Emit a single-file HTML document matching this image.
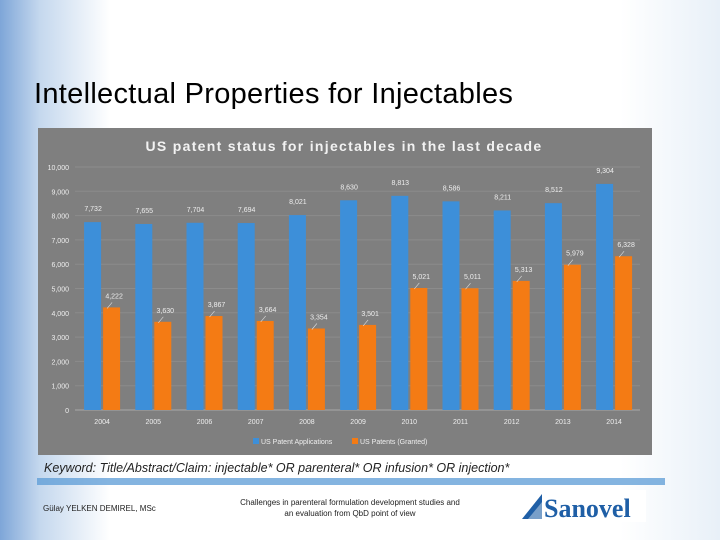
<!DOCTYPE html>
<html><head><meta charset="utf-8"><style>
body{margin:0;width:720px;height:540px;overflow:hidden;font-family:"Liberation Sans",sans-serif;position:relative;
background:linear-gradient(90deg,#7ea6d8 0px,#c5d8ee 40px,#fff 110px,#fff 620px,#e8f0f8 720px);}
.t{position:absolute}
</style></head><body>
<div class="t" style="left:34px;top:78px;font-size:29px;color:#000;letter-spacing:0.3px">Intellectual Properties for Injectables</div>
<svg class="t" style="left:0;top:0" width="720" height="540">
<rect x="38" y="128" width="614" height="327" fill="#7f7f7f"/>
<text x="344" y="151" text-anchor="middle" font-size="14" font-weight="bold" fill="#f2f2f2" letter-spacing="1.3">US patent status for injectables in the last decade</text>
<g id="grid"></g><g id="bars"></g><g id="labels"></g>
<g>
<rect x="253" y="438" width="6" height="6" fill="#3d8fd9"/>
<text x="261" y="444" font-size="7" fill="#eee">US Patent Applications</text>
<rect x="352" y="438" width="6" height="6" fill="#f47b14"/>
<text x="360" y="444" font-size="7" fill="#eee">US Patents (Granted)</text>
</g>
<rect x="37" y="478" width="628" height="7" fill="#5b9bd5" opacity="0.75"/>
</svg>
<div class="t" style="left:44px;top:461px;font-size:12.5px;font-style:italic;color:#222">Keyword: Title/Abstract/Claim: injectable* OR parenteral* OR infusion* OR injection*</div>
<div class="t" style="left:43px;top:504px;font-size:8px;color:#222">Gülay YELKEN DEMIREL, MSc</div>
<div class="t" style="left:240px;top:497px;width:220px;text-align:center;font-size:8px;line-height:11px;color:#222">Challenges in parenteral formulation development studies and an evaluation from QbD point of view</div>
<div class="t" style="left:520px;top:490px;width:126px;height:32px;background:#fff;">
<svg width="126" height="32"><polygon points="2,29 22,4 22,29" fill="#1f5fa6"/><polygon points="8,29 22,12 22,29" fill="#fff" opacity="0.4"/>
<text x="24" y="27" font-family="Liberation Serif,serif" font-weight="bold" font-size="26" fill="#1f5fa6">Sanovel</text></svg></div>
<script>
const categories=["2004","2005","2006","2007","2008","2009","2010","2011","2012","2013","2014"];
const applications=[7732,7655,7704,7694,8021,8630,8813,8586,8211,8512,9304];
const granted=[4222,3630,3867,3664,3354,3501,5021,5011,5313,5979,6328];
const ticks=[0,1000,2000,3000,4000,5000,6000,7000,8000,9000,10000];
const NS="http://www.w3.org/2000/svg";
const y=v=>410-v*0.0243;
const x0=76.5,cw=51.2;
const cx=i=>x0+cw*(i+0.5);
function mk(t,a,p){const e=document.createElementNS(NS,t);for(const k in a)e.setAttribute(k,a[k]);p.appendChild(e);return e;}
const G=document.getElementById('grid'),B=document.getElementById('bars'),L=document.getElementById('labels');
const fmt=v=>v.toLocaleString('en-US');
ticks.forEach(t=>{
 const l=mk('line',{x1:75,x2:640,y1:y(t),y2:y(t),stroke:t===0?'#aaa':'#8c8c8c','stroke-width':1},G);
 
 
 const tx=mk('text',{x:69,y:y(t)+3,'text-anchor':'end','font-size':7,fill:'#eee'},G);tx.textContent=fmt(t);
 
 
});
categories.forEach((c,i)=>{
 const tx=mk('text',{x:cx(i),y:424,'text-anchor':'middle','font-size':7,fill:'#eee'},G);tx.textContent=c;
 
 
 const a=mk('rect',{x:cx(i)-18,y:y(applications[i]),width:17,height:y(0)-y(applications[i]),fill:'#3d8fd9'},B);
 
 
 const g=mk('rect',{x:cx(i)+1,y:y(granted[i]),width:17,height:y(0)-y(granted[i]),fill:'#f47b14'},B);
 
 
 const la=mk('text',{x:cx(i)-9,y:y(applications[i])-11,'text-anchor':'middle','font-size':7,fill:'#eee'},L);la.textContent=fmt(applications[i]);
 
 
 const lg=mk('text',{x:cx(i)+12,y:y(granted[i])-9,'text-anchor':'middle','font-size':7,fill:'#eee'},L);lg.textContent=fmt(granted[i]);
 
 
 mk('line',{x1:cx(i)+5,y1:y(granted[i])+1,x2:cx(i)+10,y2:y(granted[i])-5,stroke:'#ddd','stroke-width':0.6},L);
});
</script>
</body></html>
